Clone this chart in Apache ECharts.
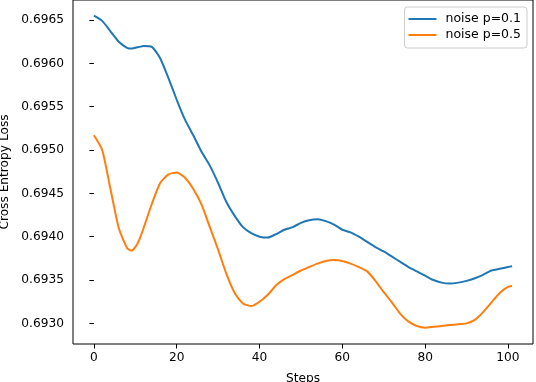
<!DOCTYPE html>
<html>
<head>
<meta charset="utf-8">
<script src="https://cdn.jsdelivr.net/npm/echarts@6/dist/echarts.min.js"></script>
<style>
html,body{margin:0;padding:0;background:#fff;}
#chart{width:536px;height:382px;}
</style>
</head>
<body>
<div id="chart"></div>
<script>
const steps = [0,2,4,6,8,9,10,11,12,14,16,18,20,22,24,26,28,30,32,34,36,38,40,42,44,46,48,50,52,54,56,58,60,62,64,66,68,70,72,74,76,78,80,82,84,86,88,90,92,94,96,98,100,101];
const noise01 = [0.69655,0.69649,0.69637,0.69625,0.69618,0.69617,0.69618,0.69619,0.69620,0.69619,0.69606,0.69583,0.69558,0.69535,0.69517,0.69498,0.69482,0.69462,0.69440,0.69424,0.69411,0.69404,0.69400,0.69399,0.69403,0.69408,0.69411,0.69416,0.69419,0.69420,0.69418,0.69414,0.69408,0.69405,0.69400,0.69394,0.69388,0.69383,0.69377,0.69371,0.69365,0.69360,0.69355,0.69350,0.69347,0.69346,0.69347,0.69349,0.69352,0.69356,0.69361,0.69363,0.69365,0.69366];
const noise05 = [0.69517,0.69500,0.69455,0.69410,0.69387,0.69384,0.69388,0.69397,0.69410,0.69438,0.69462,0.69472,0.69474,0.69468,0.69455,0.69437,0.69411,0.69385,0.69357,0.69335,0.69323,0.69320,0.69325,0.69333,0.69344,0.69351,0.69356,0.69361,0.69365,0.69369,0.69372,0.69373,0.69372,0.69369,0.69365,0.69360,0.69349,0.69336,0.69324,0.69311,0.69302,0.69297,0.69295,0.69296,0.69297,0.69298,0.69299,0.69300,0.69304,0.69313,0.69324,0.69335,0.69342,0.69343];
const xTicks = [0,20,40,60,80,100];
const yTicks = [0.6930,0.6935,0.6940,0.6945,0.6950,0.6955,0.6960,0.6965];
const seriesNames = ['noise p=0.1','noise p=0.5'];

const font = 'DejaVu Sans';
const fs = 12.2;
const chart = echarts.init(document.getElementById('chart'), null, {renderer:'canvas'});
chart.setOption({
  animation: false,
  backgroundColor: '#fff',
  textStyle: {fontFamily: font},
  grid: {left: 73, right: 3, top: 0, bottom: 38, containLabel: false, outerBoundsMode: 'none',
    show: true, borderColor: '#000', borderWidth: 1, backgroundColor: 'transparent'},
  legend: {
    orient: 'vertical', right: 9, top: 7,
    data: seriesNames,
    icon: 'rect', itemWidth: 28, itemHeight: 2, itemGap: 2,
    padding: [5, 6, 6, 4],
    borderColor: '#ccc', borderWidth: 1, borderRadius: 3, backgroundColor: '#fff',
    textStyle: {fontFamily: font, fontSize: 12.5, color: '#000', lineHeight: 14, padding: [0,0,0,4]}
  },
  xAxis: {
    type: 'value', min: -5.05, max: 106.05,
    name: 'Steps', nameLocation: 'middle', nameGap: 29,
    nameTextStyle: {fontFamily: font, fontSize: fs, color: '#000'},
    axisLine: {show: false},
    axisTick: {show: true, inside: false, length: 4.5, lineStyle: {color: '#000'}, customValues: xTicks},
    axisLabel: {show: true, margin: 8, fontFamily: font, fontSize: fs, color: '#000', customValues: xTicks},
    splitLine: {show: false}
  },
  yAxis: {
    type: 'value', min: 0.692762, max: 0.696731,
    name: 'Cross Entropy Loss', nameLocation: 'middle', nameGap: 60,
    nameTextStyle: {fontFamily: font, fontSize: fs, color: '#000'},
    axisLine: {show: false},
    axisTick: {show: true, inside: false, length: 4.5, lineStyle: {color: '#000'}, customValues: yTicks},
    axisLabel: {show: true, margin: 9, fontFamily: font, fontSize: fs, color: '#000', customValues: yTicks,
      formatter: v => v.toFixed(4)},
    splitLine: {show: false}
  },
  series: [
    {name: seriesNames[0], type: 'line', data: steps.map((s,i)=>[s, noise01[i]]), showSymbol: false, smooth: 0.2,
     lineStyle: {color: '#1f77b4', width: 2}, itemStyle: {color: '#1f77b4'}},
    {name: seriesNames[1], type: 'line', data: steps.map((s,i)=>[s, noise05[i]]), showSymbol: false, smooth: 0.2,
     lineStyle: {color: '#ff7f0e', width: 2}, itemStyle: {color: '#ff7f0e'}}
  ]
});
</script>
</body>
</html>
